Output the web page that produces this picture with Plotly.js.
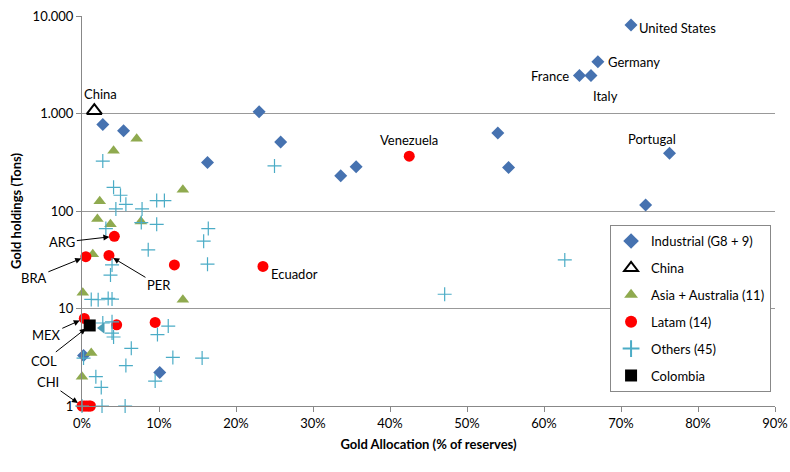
<!DOCTYPE html>
<html>
<head>
<meta charset="utf-8">
<script src="https://cdn.plot.ly/plotly-3.0.1.min.js"></script>
<style>body{margin:0;background:#fff}#chart{width:790px;height:472px}</style>
</head>
<body>
<div id="chart"></div>
<script>
// Gold allocation (% of reserves) vs gold holdings (tons)
const indX = [71.3, 67.0, 66.1, 64.6, 76.3, 73.2, 23.0, 25.8, 16.3, 2.7, 5.4, 0.2, 10.1, 33.6, 35.6, 54.0, 55.4];
const indY = [8100, 3400, 2450, 2450, 390, 115, 1040, 510, 315, 770, 665, 3.3, 2.2, 230, 285, 630, 280];

const chinaX = [1.6];
const chinaY = [1070];

const asiaX = [7.1, 4.1, 13.1, 2.3, 2.0, 3.7, 7.65, 1.4, 0.1, 13.1, 1.2, 0];
const asiaY = [550, 415, 165, 126, 83, 73, 78, 36, 14.5, 12.3, 3.5, 2.0];

const latamX = [42.5, 23.5, 4.2, 0.5, 3.5, 12.0, 0.3, 4.5, 9.5, 0, 0.3, 0.6, 0.9, 1.1];
const latamY = [365, 27, 55, 34, 35, 28, 7.9, 6.8, 7.2, 1, 1, 1, 1, 1];

const othX = [2.7, 25.0, 4.1, 5.0, 5.7, 4.4, 7.8, 9.7, 10.7, 7.7, 9.7, 16.4, 15.8, 8.6, 3.9, 16.3, 3.7,
  1.2, 2.1, 3.4, 3.9, 3.1, 3.9, 2.7, 11.2, 9.8, 3.9, 4.1, 6.4, 11.8, 15.6, 5.7, 9.5, 1.8, 2.5, 0.2,
  0, 2.6, 5.6, 62.7, 47.1];
const othY = [325, 290, 175, 145, 117, 105, 105, 128, 128, 76, 73, 66, 49, 40, 28, 28.5, 22,
  12.4, 12.3, 12.7, 12.5, 66, 7.3, 7.1, 6.6, 5.4, 5.6, 5.1, 3.9, 3.15, 3.1, 2.6, 1.8, 2.0, 1.55, 3.1,
  1, 1, 1, 31.5, 14];

const colX = [1.0];
const colY = [6.7];
const oddX = [2.6];
const oddY = [6.3];

const xTicks = [0, 10, 20, 30, 40, 50, 60, 70, 80, 90];
const yTicks = [1, 10, 100, 1000, 10000];
const yTickText = ['1', '10', '100', '1.000', '10.000'];

const traces = [
  {x: indX, y: indY, type: 'scatter', mode: 'markers', name: 'Industrial (G8 + 9)', legendgroup: 'a',
   marker: {symbol: 'diamond', size: 10, color: '#4672b0'}},
  {x: chinaX, y: chinaY, type: 'scatter', mode: 'markers', name: 'China', legendgroup: 'b',
   marker: {symbol: 'triangle-up-open', size: 13, color: '#000', line: {width: 2}}},
  {x: asiaX, y: asiaY, type: 'scatter', mode: 'markers', name: 'Asia + Australia (11)', legendgroup: 'c',
   marker: {symbol: 'triangle-up', size: 11, color: '#8faa4f'}},
  {x: latamX, y: latamY, type: 'scatter', mode: 'markers', name: 'Latam (14)', legendgroup: 'd',
   marker: {symbol: 'circle', size: 11, color: '#ff0000'}},
  {x: othX, y: othY, type: 'scatter', mode: 'markers', name: 'Others (45)', legendgroup: 'e',
   marker: {symbol: 'cross-thin-open', size: 10, color: '#4bacc6', line: {width: 1.2, color: '#4bacc6'}}},
  {x: oddX, y: oddY, type: 'scatter', mode: 'markers', showlegend: false, legendgroup: 'e',
   marker: {symbol: 'triangle-left', size: 10, color: '#4a9db5'}},
  {x: colX, y: colY, type: 'scatter', mode: 'markers', name: 'Colombia', legendgroup: 'f',
   marker: {symbol: 'square', size: 12, color: '#000'}}
];
traces.forEach(t => { t.cliponaxis = false; });

const fnt = {family: 'Lato, "Liberation Sans", sans-serif', size: 13, color: '#000'};

function label(x, y, text, xs, ys, anchor) {
  return {x: x, y: Math.log10(y), text: text, showarrow: false, xshift: xs, yshift: ys,
    xanchor: anchor || 'left', font: fnt};
}
function arrowLabel(x, y, text, ax, ay) {
  return {x: x, y: Math.log10(y), text: text, showarrow: true, arrowhead: 2, arrowsize: 1.2,
    arrowwidth: 1, arrowcolor: '#000', ax: ax, ay: ay, standoff: 5, font: fnt};
}

const layout = {
  width: 790, height: 472,
  margin: {l: 82, r: 15, t: 16, b: 66},
  paper_bgcolor: '#fff', plot_bgcolor: '#fff',
  font: fnt,
  showlegend: true,
  legend: {x: 0.762, y: 0.464, xanchor: 'left', yanchor: 'top', bgcolor: '#fff',
    bordercolor: '#888', borderwidth: 1, font: fnt, tracegroupgap: 7, itemsizing: 'constant'},
  xaxis: {range: [0, 90], tickvals: xTicks, ticktext: xTicks.map(v => v + '%'),
    ticklabeloverflow: 'allow', showgrid: false, zeroline: false,
    showline: true, linecolor: '#888', ticks: 'outside', ticklen: 5, tickcolor: '#888',
    title: {text: '<b>Gold Allocation (% of reserves)</b>', font: fnt, standoff: 10}},
  yaxis: {type: 'log', range: [0, 4], tickvals: yTicks, ticktext: yTickText,
    showgrid: true, gridcolor: '#999', showline: true, linecolor: '#888',
    ticks: 'outside', ticklen: 5, tickcolor: '#888',
    title: {text: '<b>Gold holdings (Tons)</b>', font: fnt, standoff: 8}},
  annotations: [
    label(71.3, 8100, 'United States', 6, -3),
    label(67.0, 3400, 'Germany', 8, 0),
    label(64.6, 2450, 'France', -8, 0, 'right'),
    label(66.1, 2450, 'Italy', 0, -20),
    label(76.3, 390, 'Portugal', 8, 14, 'right'),
    label(42.5, 365, 'Venezuela', 0, 16, 'center'),
    label(23.5, 27, 'Ecuador', 6, -8),
    label(1.6, 1070, 'China', -12, 17),
    arrowLabel(4.2, 55, 'ARG', -52, 6),
    arrowLabel(0.5, 34, 'BRA', -52, 21),
    arrowLabel(3.5, 35, 'PER', 50, 30),
    arrowLabel(0.3, 7.9, 'MEX', -38, 17),
    arrowLabel(1.0, 6.7, 'COL', -46, 36),
    arrowLabel(0, 1, 'CHI', -34, -24)
  ]
};

Plotly.newPlot('chart', traces, layout, {displayModeBar: false});
</script>
</body>
</html>
